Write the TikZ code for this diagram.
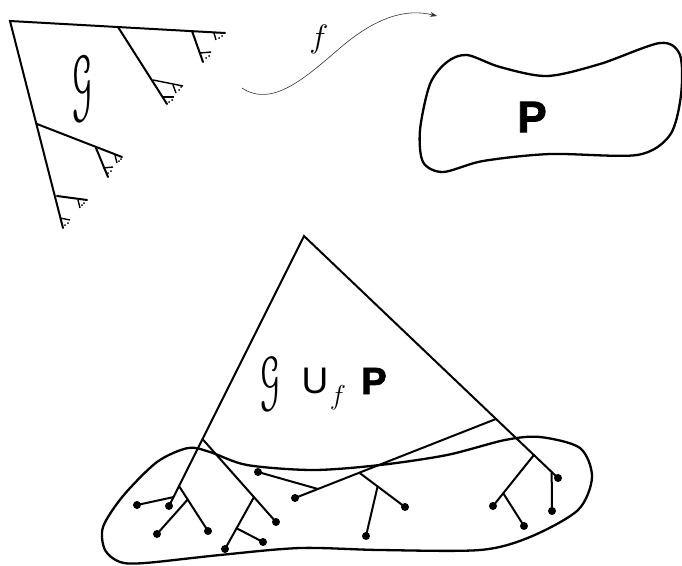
\documentclass[tikz,border=0pt]{standalone}
\usepackage{fontspec}
\setsansfont{Liberation Sans}
\newfontfamily\heavyfont{Liberation Sans Bold}[FakeBold=2]
\usepackage[mathscr]{euscript}
\usetikzlibrary{arrows.meta, calc}
\tikzset{
  branch/.style={line width=2pt, line cap=round},
  twig/.style={line width=1.4pt},
  blob/.style={line width=2.3pt},
  seed/.style={fill=black, radius=1pt},
  leafdot/.style={fill=black, radius=4pt},
  mapline/.style={-{Stealth[length=7pt, width=5pt]}, line width=0.6pt, black!80},
  scriptlabel/.style={font=\Huge, scale=2.2, xscale=0.65, yscale=1.5, inner sep=0pt},
  heavylabel/.style={font=\fontsize{44}{46}\heavyfont, inner sep=0pt},
  cuplabel/.style={font=\fontsize{37}{40}\sffamily, inner sep=0pt}
}
\begin{document}
\begin{tikzpicture}[x=1pt, y=-1pt]
  \useasboundingbox (0,0) rectangle (682,565);

  % the tree G
  \coordinate (g0) at (10,21);
  \coordinate (gtop) at (225,33);
  \coordinate (gleft) at (63,228);
  \coordinate (gb) at (118,27);
  \coordinate (gb1) at (167,104);
  \coordinate (gc) at (192,31);
  \coordinate (gc1) at (203,62);
  \coordinate (gd) at (37,124);
  \coordinate (gd1) at (122,157);
  \coordinate (gd2) at (96,148);
  \coordinate (gd3) at (108,177);
  \coordinate (ge) at (57,196);
  \coordinate (ge1) at (87,200);
  \draw[branch] (gtop) -- (g0) -- (gleft);
  \draw[branch] (gb) -- (gb1);
  \draw[branch] (gc) -- (gc1);
  \draw[branch] (gd) -- (gd1);
  \draw[branch] (gd2) -- (gd3);
  \draw[branch] (ge) -- (ge1);
  % little ends
  \draw[twig] (214,33) -- (216,40);
  \draw[twig] (200,53) -- (211,52);
  \draw[twig] (153,80) -- (183,86);
  \draw[twig] (173,85) -- (176,93);
  \draw[twig] (163,97) -- (174,97);
  \draw[twig] (103,168) -- (113,167);
  \draw[twig] (115,155) -- (117,163);
  \draw[twig] (78,200) -- (80,208);
  \draw[twig] (60,218) -- (70,220);
  \foreach \p in {(219,38),(222,36),(206,58),(209,56),(179,90),(181,87),
                  (169,102),(172,100),(108,173),(111,171),(119,161),(121,159),
                  (82,205),(84,203),(65,225),(68,223)}
    \fill[seed] \p circle;
  \node[scriptlabel] (gname) at (82,89) {$\mathscr{G}$};

  % the map f
  \coordinate (fstart) at (242,88);
  \coordinate (fend) at (437,16);
  \draw[mapline] (fstart) .. controls (272,108) and (305,78) .. (340,48)
    .. controls (375,18) and (405,8) .. (fend);
  \node[font=\Huge, scale=1.3, inner sep=0pt] (fname) at (319,39) {$f$};

  % the space P
  \draw[blob] plot[smooth cycle] coordinates {(467,55) (500,67) (547,76) (600,64)
    (660,43) (680,55) (681,95) (670,135) (637,155) (550,154) (483,161) (443,172)
    (423,162) (420,130) (430,84) (447,62)};
  \node[heavylabel] (pname) at (532,117) {P};

  % the glued tree
  \coordinate (apex) at (304,236);
  \coordinate (lend) at (169,506);
  \coordinate (rend) at (558,478);
  \coordinate (l1) at ($(apex)!0.752!(lend)$);
  \coordinate (l2) at ($(apex)!0.926!(lend)$);
  \coordinate (l3) at ($(apex)!0.967!(lend)$);
  \coordinate (r1) at ($(apex)!0.756!(rend)$);
  \coordinate (r2) at ($(apex)!0.905!(rend)$);
  \coordinate (r3) at ($(apex)!0.975!(rend)$);
  \coordinate (d1) at (295,498);
  \coordinate (d2) at (405,507);
  \coordinate (d3) at (366,536);
  \coordinate (d4) at (258,472);
  \coordinate (d5) at (276,522);
  \coordinate (d6) at (225,549);
  \coordinate (d7) at (263,542);
  \coordinate (d8) at (208,531);
  \coordinate (d9) at (157,534);
  \coordinate (d10) at (137,505);
  \coordinate (d11) at (552,511);
  \coordinate (d12) at (493,506);
  \coordinate (d13) at (524,526);
  \coordinate (m1) at ($(r1)!0.68!(d1)$);
  \coordinate (m2) at ($(m1)!0.4!(d2)$);
  \coordinate (m3) at ($(r1)!0.886!(d1)$);
  \coordinate (n1) at ($(l1)!0.7!(d5)$);
  \coordinate (n2) at ($(n1)!0.6!(d6)$);
  \coordinate (n3) at ($(l2)!0.3!(d8)$);
  \coordinate (n4) at ($(r2)!0.75!(d12)$);
  \draw[branch] (lend) -- (apex) -- (rend);
  \draw[branch] (r1) -- (d1);
  \draw[branch] (m1) -- (d2);
  \draw[branch] (m2) -- (d3);
  \draw[branch] (m3) -- (d4);
  \draw[branch] (l1) -- (d5);
  \draw[branch] (n1) -- (d6);
  \draw[branch] (n2) -- (d7);
  \draw[branch] (l2) -- (d8);
  \draw[branch] (n3) -- (d9);
  \draw[branch] (l3) -- (d10);
  \draw[branch] (r3) -- (d11);
  \draw[branch] (r2) -- (d12);
  \draw[branch] (n4) -- (d13);
  \foreach \d in {lend,rend,d1,d2,d3,d4,d5,d6,d7,d8,d9,d10,d11,d12,d13}
    \fill[leafdot] (\d) circle;

  \draw[blob] plot[smooth cycle] coordinates {(210,452) (188,448) (157,462)
    (123,496) (103,527) (105,550) (120,562) (145,563) (220,555) (300,548)
    (380,550) (480,550) (530,537) (578,510) (592,477) (580,448) (540,437)
    (505,440) (447,455) (380,465) (313,470) (247,465)};

  \node[scriptlabel, scale=0.82, xscale=1.2] (gluedg) at (270,384) {$\mathscr{G}$};
  \node[cuplabel] (cup) at (315,381) {U};
  \node[font=\Huge, scale=1.1, inner sep=0pt] (subf) at (338,398) {$f$};
  \node[heavylabel, font=\fontsize{38}{40}\heavyfont] (gluedp) at (374,381) {P};
\end{tikzpicture}
\end{document}
